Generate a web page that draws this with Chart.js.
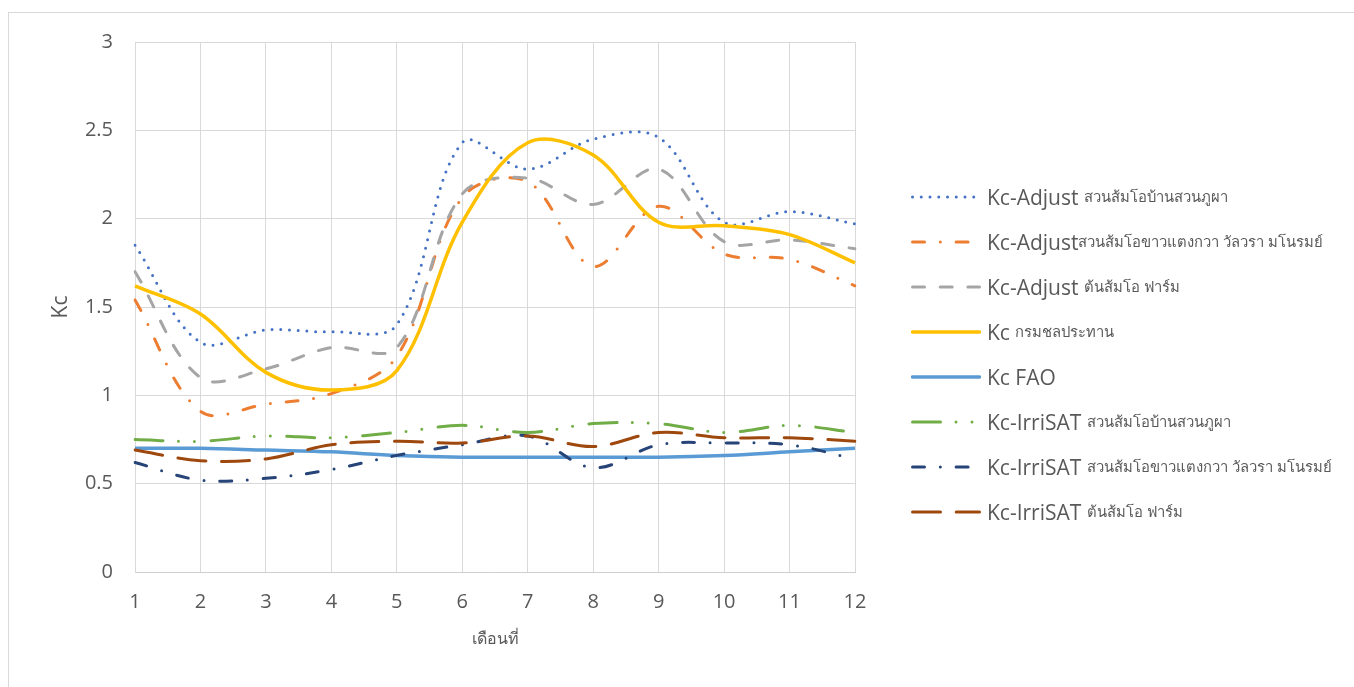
<!DOCTYPE html>
<html>
<head>
<meta charset="utf-8">
<script src="https://cdn.jsdelivr.net/npm/chart.js@4/dist/chart.umd.min.js"></script>
<style>
  html, body { margin: 0; padding: 0; background: #fff; overflow: hidden; }
  #wrap { position: relative; width: 1354px; height: 687px; overflow: hidden; }
  #frame { position: absolute; left: 8px; top: 12px; width: 1400px; height: 720px;
           border-left: 1px solid #d9d9d9; border-top: 1px solid #d9d9d9; }
  #chart { position: absolute; left: 0; top: 0; }
  #legend { position: absolute; left: 911px; top: 0; }
  .item { position: absolute; left: 0; height: 30px; display: flex; align-items: center;
          white-space: nowrap; color: #595959; }
  .item svg { width: 70px; height: 8px; margin-right: 6px; flex: none; }
  .lat { font-family: 'Open Sans', sans-serif; font-size: 21px; white-space: pre; }
  .th { font-family: 'Open Sans', 'Noto Sans', sans-serif; font-size: 14.8px; white-space: pre; }
</style>
</head>
<body>
<div id="wrap">
  <div id="frame"></div>
  <canvas id="chart" width="1354" height="687"></canvas>
  <div id="legend"></div>
</div>
<script>
// Month numbers along the x axis
const months = ['1', '2', '3', '4', '5', '6', '7', '8', '9', '10', '11', '12'];

// Kc axis tick labels
const kcTicks = ['0', '0.5', '1', '1.5', '2', '2.5', '3'];

// Crop coefficient (Kc) per month
const adjustPhuPha       = [1.85, 1.30, 1.37, 1.36, 1.40, 2.43, 2.28, 2.45, 2.46, 1.98, 2.04, 1.97];
const adjustKhaoTaengKwa = [1.54, 0.91, 0.95, 1.01, 1.22, 2.12, 2.21, 1.73, 2.07, 1.80, 1.77, 1.62];
const adjustFarm         = [1.70, 1.10, 1.15, 1.27, 1.27, 2.14, 2.23, 2.08, 2.28, 1.87, 1.88, 1.83];
const kcRID              = [1.62, 1.46, 1.13, 1.03, 1.14, 1.98, 2.43, 2.36, 1.98, 1.96, 1.91, 1.75];
const kcFAO              = [0.70, 0.70, 0.69, 0.68, 0.66, 0.65, 0.65, 0.65, 0.65, 0.66, 0.68, 0.70];
const irriPhuPha         = [0.75, 0.74, 0.77, 0.76, 0.79, 0.83, 0.79, 0.84, 0.84, 0.79, 0.83, 0.79];
const irriKhaoTaengKwa   = [0.62, 0.52, 0.53, 0.58, 0.66, 0.72, 0.77, 0.59, 0.72, 0.73, 0.72, 0.64];
const irriFarm           = [0.69, 0.63, 0.64, 0.72, 0.74, 0.73, 0.77, 0.71, 0.79, 0.76, 0.76, 0.74];

// Series names: method part and site part
const seriesMethod = ['Kc-Adjust', 'Kc-Adjust', 'Kc-Adjust', 'Kc', 'Kc FAO', 'Kc-IrriSAT', 'Kc-IrriSAT', 'Kc-IrriSAT'];
const seriesSite = ['สวนส้มโอบ้านสวนภูผา', 'สวนส้มโอขาวแตงกวา วัลวรา มโนรมย์', 'ต้นส้มโอ ฟาร์ม', 'กรมชลประทาน', '',
                    'สวนส้มโอบ้านสวนภูผา', 'สวนส้มโอขาวแตงกวา วัลวรา มโนรมย์', 'ต้นส้มโอ ฟาร์ม'];
const seriesJoin = [' ', '', ' ', ' ', '', ' ', ' ', ' '];

const seriesValues = [adjustPhuPha, adjustKhaoTaengKwa, adjustFarm, kcRID, kcFAO,
                      irriPhuPha, irriKhaoTaengKwa, irriFarm];

// Line appearance for each series
const seriesStyle = [
  { color: '#4472C4', width: 3,   dash: [0, 8.75] },
  { color: '#ED7D31', width: 3,   dash: [12, 15.8, 0, 15.8] },
  { color: '#A5A5A5', width: 3,   dash: [12, 15.7] },
  { color: '#FFC000', width: 3.5, dash: [] },
  { color: '#5B9BD5', width: 3.5, dash: [] },
  { color: '#70AD47', width: 3,   dash: [28, 15.5, 0, 16, 0, 16.5] },
  { color: '#264478', width: 3,   dash: [12, 15.8, 0, 15.8] },
  { color: '#9E480E', width: 3,   dash: [28, 15.7] }
];

const N = seriesValues.length;
const datasets = seriesValues.map((vals, i) => ({
  label: seriesMethod[i] + seriesJoin[i] + seriesSite[i],
  data: vals,
  borderColor: seriesStyle[i].color,
  backgroundColor: seriesStyle[i].color,
  borderWidth: seriesStyle[i].width,
  borderDash: seriesStyle[i].dash,
  borderCapStyle: seriesStyle[i].dash.length ? 'round' : 'butt',
  borderJoinStyle: 'round',
  pointRadius: 0,
  pointHoverRadius: 0,
  tension: 0.35,
  fill: false,
  order: N - i
}));

const gridColor = '#d9d9d9';
const textColor = '#595959';
const tickFont = { family: "'Open Sans', sans-serif", size: 20 };

const chart = new Chart(document.getElementById('chart'), {
  type: 'line',
  data: { labels: months, datasets },
  options: {
    responsive: false,
    animation: false,
    events: [],
    layout: { padding: { left: 8, top: 42, right: 499, bottom: 38 } },
    plugins: { legend: { display: false }, tooltip: { enabled: false } },
    scales: {
      x: {
        type: 'category',
        offset: false,
        grid: { color: gridColor, lineWidth: 1, drawTicks: false },
        border: { color: '#cfcfcf', width: 1 },
        ticks: { color: textColor, font: tickFont, padding: 18, maxRotation: 0, autoSkip: false },
        title: { display: true, text: 'เดือนที่', color: textColor,
                 font: { family: "'Open Sans', 'Noto Sans', sans-serif", size: 16 },
                 padding: { top: 16, bottom: 0 } },
        afterFit: (scale) => { scale.height = 77; }
      },
      y: {
        min: 0, max: 3,
        grid: { color: gridColor, lineWidth: 1, drawTicks: false },
        border: { color: gridColor, width: 1 },
        ticks: {
          stepSize: 0.5, color: textColor, font: tickFont, padding: 22,
          callback: (value) => kcTicks[Math.round(value * 2)]
        },
        title: { display: true, text: 'Kc', color: textColor,
                 font: { family: "'Open Sans', sans-serif", size: 21 },
                 padding: { top: 40, bottom: 0 } },
        afterFit: (scale) => { scale.width = 127; }
      }
    }
  }
});

// Legend beside the plot, built from the chart's datasets
const legend = document.getElementById('legend');
const svgNS = 'http://www.w3.org/2000/svg';
chart.data.datasets.forEach((ds, i) => {
  const item = document.createElement('div');
  item.className = 'item';
  item.style.top = (197 + i * 45 - 15) + 'px';
  const svg = document.createElementNS(svgNS, 'svg');
  svg.setAttribute('viewBox', '0 0 70 8');
  const line = document.createElementNS(svgNS, 'line');
  line.setAttribute('x1', '1.5'); line.setAttribute('x2', '68.5');
  line.setAttribute('y1', '4'); line.setAttribute('y2', '4');
  line.setAttribute('stroke', ds.borderColor);
  line.setAttribute('stroke-width', ds.borderWidth);
  line.setAttribute('stroke-linecap', 'round');
  if (ds.borderDash.length) line.setAttribute('stroke-dasharray', ds.borderDash.join(' '));
  svg.appendChild(line);
  item.appendChild(svg);
  const a = document.createElement('span');
  a.className = 'lat';
  a.textContent = seriesMethod[i] + (seriesSite[i] ? seriesJoin[i] : '');
  item.appendChild(a);
  if (seriesSite[i]) {
    const b = document.createElement('span');
    b.className = 'th';
    b.textContent = seriesSite[i];
    item.appendChild(b);
  }
  legend.appendChild(item);
});
</script>
</body>
</html>
